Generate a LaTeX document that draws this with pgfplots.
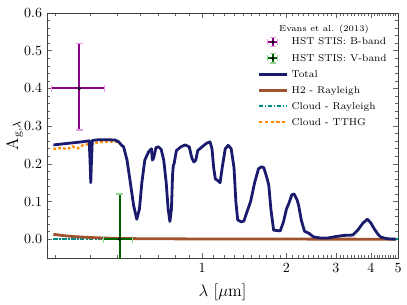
\documentclass[border=0pt]{standalone}
\usepackage{pgfplots}
\pgfplotsset{compat=1.18}
\definecolor{totalc}{HTML}{1B1B6E}
\definecolor{h2c}{HTML}{A0522D}
\definecolor{cloudr}{HTML}{008B8B}
\definecolor{tthg}{HTML}{FF8C00}
\definecolor{bband}{HTML}{8B008B}
\definecolor{bcap}{HTML}{E49BE4}
\definecolor{vband}{HTML}{006400}
\definecolor{vcap}{HTML}{90D890}
\begin{document}
\begin{tikzpicture}
\begin{axis}[
  name=ax,
  scale only axis, width=250.7pt, height=175pt,
  xmode=log, xmin=0.28, xmax=5, ymin=-0.05, ymax=0.6,
  xtick={1,2,3,4,5}, xticklabels={1,2,3,4,5},
  minor xtick={0.3,0.4,0.5,0.6,0.7,0.8,0.9,1.1,1.2,1.3,1.4,1.5,1.6,1.7,1.8,1.9,2.1,2.2,2.3,2.4,2.5,2.6,2.7,2.8,2.9,3.1,3.2,3.3,3.4,3.5,3.6,3.7,3.8,3.9,4.1,4.2,4.3,4.4,4.5,4.6,4.7,4.8,4.9},
  ytick={0,0.1,0.2,0.3,0.4,0.5,0.6}, minor y tick num=4,
  yticklabel style={/pgf/number format/.cd, fixed, fixed zerofill, precision=1},
  tick align=inside, major tick length=3.5pt, minor tick length=2pt,
  axis line style={black!75}, every tick/.style={black!60},
  xlabel={$\lambda$ [$\mu$m]}, ylabel={$\mathrm{A}_{\mathrm{g},\lambda}$},
  label style={font=\large},
  xlabel style={at={(axis description cs:0.5,-0.139)}, anchor=center},
  ylabel style={at={(axis description cs:-0.092,0.5)}, anchor=center},
  legend style={draw=none, fill=none, font=\fontsize{7.1pt}{8.6pt}\selectfont, inner sep=0pt,
    nodes={inner sep=0pt, text height=6pt, text depth=1.8pt},
    row sep=3.6pt, column sep=2.5pt,
    at={(axis description cs:0.9685,0.906)}, anchor=north east},
  legend cell align=left,
]
% drawing order
\addplot[cloudr, line width=1.6pt, dash pattern=on 3pt off 1.2pt on 1pt off 1.2pt, forget plot] coordinates {
(0.295,0.000) (0.5,0.000) (1,0.000) (5,0.000)};
\addplot[tthg, line width=1.6pt, dash pattern=on 2pt off 1.5pt, forget plot] coordinates {
(0.295,0.239) (0.315,0.242) (0.33,0.239) (0.345,0.246) (0.36,0.241) (0.375,0.249) (0.40,0.253) (0.43,0.257) (0.46,0.259) (0.50,0.258) (0.52,0.249)};
\addplot[h2c, line width=2pt, forget plot] coordinates {
(0.295,0.013) (0.32,0.0095) (0.35,0.0068) (0.40,0.0045) (0.45,0.003) (0.5,0.002) (0.6,0.0013) (0.8,0.0009) (1,0.0006) (2,0.0003) (4.9,0.0)};
\addplot[totalc, line width=2pt, line join=round, forget plot] coordinates {
(0.295,0.250) (0.32,0.253) (0.35,0.256) (0.38,0.259) (0.396,0.261) (0.399,0.20) (0.401,0.150) (0.403,0.20) (0.406,0.262)
(0.43,0.264) (0.46,0.264) (0.49,0.263) (0.505,0.258) (0.515,0.250) (0.525,0.245) (0.54,0.210) (0.555,0.150) (0.57,0.090)
(0.585,0.053) (0.598,0.080) (0.61,0.150) (0.625,0.210) (0.645,0.232) (0.66,0.240) (0.665,0.210) (0.672,0.215) (0.685,0.243)
(0.70,0.245) (0.715,0.238) (0.73,0.210) (0.745,0.150) (0.757,0.080) (0.768,0.047) (0.778,0.080) (0.785,0.170) (0.79,0.196)
(0.795,0.200) (0.81,0.235) (0.84,0.245) (0.87,0.250) (0.90,0.245) (0.92,0.215) (0.935,0.205) (0.95,0.21) (0.965,0.235)
(1.00,0.245) (1.04,0.255) (1.068,0.258) (1.085,0.240) (1.10,0.190) (1.115,0.160) (1.14,0.155) (1.16,0.150) (1.18,0.190)
(1.21,0.240) (1.24,0.249) (1.27,0.240) (1.30,0.190) (1.32,0.100) (1.34,0.051) (1.38,0.046) (1.41,0.048) (1.45,0.075)
(1.49,0.100) (1.54,0.150) (1.59,0.187) (1.63,0.192) (1.66,0.190) (1.70,0.165) (1.73,0.143) (1.76,0.080) (1.80,0.024)
(1.90,0.022) (1.95,0.045) (2.00,0.080) (2.04,0.095) (2.09,0.118) (2.13,0.120) (2.18,0.105) (2.21,0.090) (2.26,0.050)
(2.32,0.021) (2.40,0.016) (2.50,0.006) (2.65,0.003) (2.80,0.003) (3.00,0.007) (3.20,0.010) (3.45,0.011) (3.60,0.025)
(3.75,0.043) (3.89,0.053) (4.00,0.043) (4.10,0.029) (4.25,0.012) (4.35,0.005) (4.60,0.001) (4.90,0.000)};
% B-band error bars
\addplot[bband, line width=1.4pt, forget plot] coordinates {(0.29,0.40) (0.45,0.40)};
\addplot[bband, line width=1.4pt, forget plot] coordinates {(0.365,0.29) (0.365,0.52)};
\addplot[bcap, only marks, mark=|, mark size=2.5pt, line width=0.9pt, forget plot] coordinates {(0.29,0.40) (0.45,0.40)};
\addplot[bcap, only marks, mark=-, mark size=2.5pt, line width=0.9pt, forget plot] coordinates {(0.365,0.29) (0.365,0.52)};
\addplot[only marks, mark=*, mark size=1pt, mark options={fill=black!60!bband, draw=black}, forget plot] coordinates {(0.365,0.40)};
% V-band error bars
\addplot[vband, line width=1.4pt, forget plot] coordinates {(0.446,0.0) (0.566,0.0)};
\addplot[vband, line width=1.4pt, forget plot] coordinates {(0.508,-0.12) (0.508,0.12)};
\addplot[vcap, only marks, mark=|, mark size=2.5pt, line width=0.9pt, forget plot] coordinates {(0.446,0.0) (0.566,0.0)};
\addplot[vcap, only marks, mark=-, mark size=2.5pt, line width=0.9pt, forget plot] coordinates {(0.508,0.12)};
\addplot[only marks, mark=*, mark size=1pt, mark options={fill=black!60!vband, draw=black}, forget plot] coordinates {(0.508,0.0)};
% legend
\addlegendimage{legend image code/.code={
  \draw[line width=1.2pt, bband] (0.225cm,0cm) -- (0.475cm,0cm);
  \draw[line width=1.2pt, bband] (0.35cm,-0.12cm) -- (0.35cm,0.12cm);
  \draw[line width=0.8pt, bcap] (0.27cm,0.12cm) -- (0.43cm,0.12cm);
  \draw[line width=0.8pt, bcap] (0.27cm,-0.12cm) -- (0.43cm,-0.12cm);
  \draw[line width=0.8pt, bcap] (0.225cm,-0.07cm) -- (0.225cm,0.07cm);
  \draw[line width=0.8pt, bcap] (0.475cm,-0.07cm) -- (0.475cm,0.07cm);
  \fill[black] (0.35cm,0cm) circle (0.9pt);}}
\addlegendentry{HST STIS: B-band}
\addlegendimage{legend image code/.code={
  \draw[line width=1.2pt, vband] (0.225cm,0cm) -- (0.475cm,0cm);
  \draw[line width=1.2pt, vband] (0.35cm,-0.12cm) -- (0.35cm,0.12cm);
  \draw[line width=0.8pt, vcap] (0.27cm,0.12cm) -- (0.43cm,0.12cm);
  \draw[line width=0.8pt, vcap] (0.27cm,-0.12cm) -- (0.43cm,-0.12cm);
  \draw[line width=0.8pt, vcap] (0.225cm,-0.07cm) -- (0.225cm,0.07cm);
  \draw[line width=0.8pt, vcap] (0.475cm,-0.07cm) -- (0.475cm,0.07cm);
  \fill[black] (0.35cm,0cm) circle (0.9pt);}}
\addlegendentry{HST STIS: V-band}
\addlegendimage{legend image code/.code={\draw[totalc, line width=2pt] (0cm,0cm) -- (0.7cm,0cm);}}
\addlegendentry{Total}
\addlegendimage{legend image code/.code={\draw[h2c, line width=2pt] (0cm,0cm) -- (0.7cm,0cm);}}
\addlegendentry{H2 - Rayleigh}
\addlegendimage{legend image code/.code={\draw[cloudr, line width=1.6pt, dash pattern=on 3pt off 1.2pt on 1pt off 1.2pt] (0cm,0cm) -- (0.7cm,0cm);}}
\addlegendentry{Cloud - Rayleigh}
\addlegendimage{legend image code/.code={\draw[tthg, line width=1.6pt, dash pattern=on 2.2pt off 2pt] (0cm,0cm) -- (0.7cm,0cm);}}
\addlegendentry{Cloud - TTHG}
\end{axis}
\path (ax.north west) ++(197.8pt,-12.9pt) node[anchor=base, inner sep=0pt, font=\fontsize{6.2pt}{7pt}\selectfont] {Evans et al. (2013)};
\pgfresetboundingbox
\path (ax.south west) ++(-33.6pt,-32.9pt) coordinate (bl);
\path (ax.north east) ++(6.4pt,9.3pt) coordinate (tr);
\path[use as bounding box] (bl) rectangle (tr);
\end{tikzpicture}
\end{document}
